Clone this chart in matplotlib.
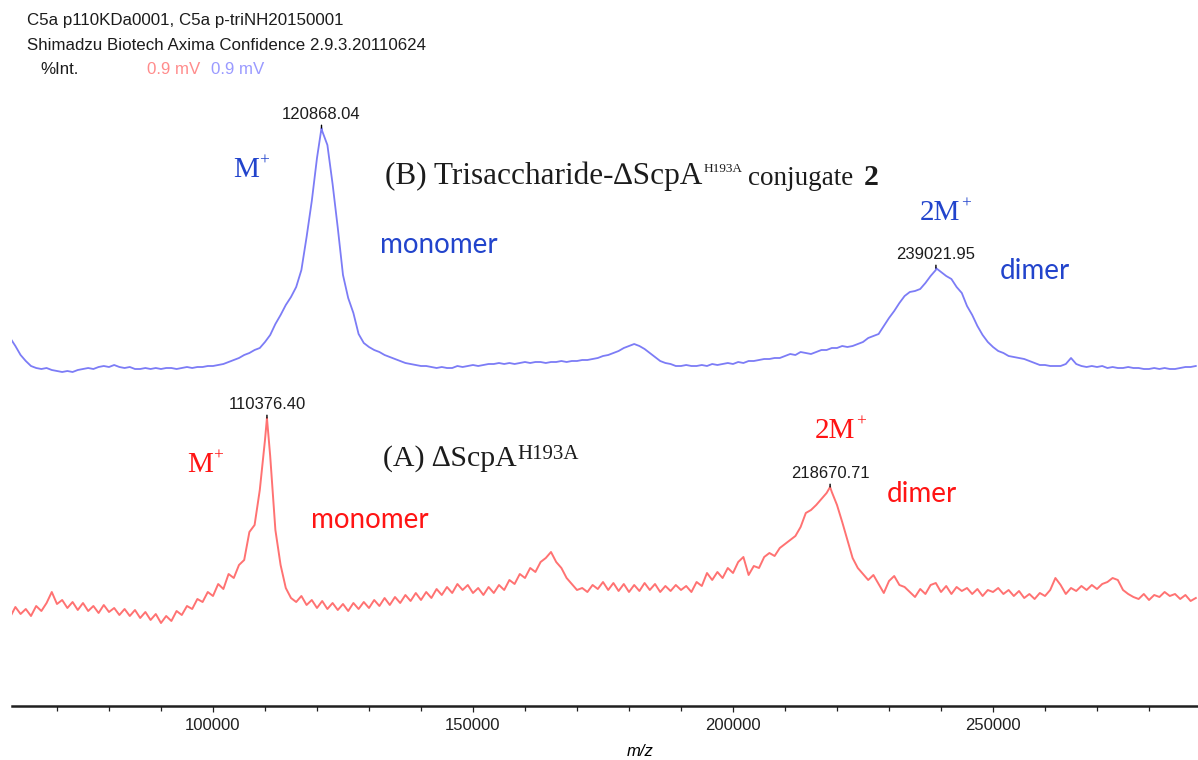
import numpy as np
import matplotlib
matplotlib.use('Agg')
import matplotlib.pyplot as plt
from matplotlib.ticker import MultipleLocator

# m/z sampling grid of the two traces (1000 Da per point)
mz = np.arange(61000, 290000, 1000)

# (B) trisaccharide conjugate, upper trace (height above the m/z axis)
blue_h = [
    368, 360, 351, 345, 340, 338, 337, 338, 336, 335,
    334, 335, 334, 336, 337, 338, 337, 339, 340, 339,
    341, 339, 338, 339, 337, 337, 338, 337, 338, 337,
    338, 338, 337, 338, 339, 338, 339, 339, 340, 340,
    341, 342, 344, 346, 348, 351, 353, 356, 358, 364,
    371, 382, 391, 401, 409, 419, 436, 469, 505, 548,
    575, 561, 522, 478, 431, 408, 393, 372, 363, 359,
    356, 354, 351, 349, 347, 345, 343, 342, 341, 340,
    340, 339, 338, 339, 338, 338, 340, 339, 340, 341,
    340, 341, 342, 342, 343, 342, 343, 342, 343, 344,
    343, 344, 344, 343, 344, 344, 345, 344, 345, 345,
    346, 346, 347, 348, 350, 351, 353, 355, 358, 360,
    362, 360, 357, 353, 349, 345, 343, 342, 340, 340,
    341, 340, 340, 341, 340, 342, 341, 342, 343, 342,
    344, 343, 345, 345, 346, 347, 347, 348, 348, 350,
    352, 351, 354, 353, 352, 354, 356, 356, 358, 358,
    360, 359, 360, 362, 364, 368, 370, 372, 380, 388,
    395, 403, 410, 414, 415, 417, 423, 430, 436, 434,
    430, 427, 419, 413, 400, 391, 380, 371, 364, 359,
    355, 353, 350, 349, 348, 347, 345, 343, 341, 341,
    340, 340, 340, 342, 348, 342, 340, 339, 340, 339,
    340, 338, 339, 338, 338, 339, 338, 338, 337, 337,
    338, 337, 338, 337, 337, 338, 339, 339, 340,
]

# (A) ScpA H193A, lower trace
red_h = [
    89, 99, 92, 97, 90, 100, 95, 103, 114, 102,
    106, 98, 104, 96, 103, 95, 100, 93, 101, 94,
    98, 91, 97, 90, 96, 88, 94, 86, 92, 83,
    90, 85, 95, 91, 100, 97, 107, 104, 114, 110,
    122, 117, 132, 128, 141, 146, 174, 181, 216, 266,
    250, 176, 141, 118, 108, 104, 110, 101, 106, 98,
    105, 97, 103, 96, 102, 95, 103, 97, 104, 98,
    106, 100, 108, 101, 109, 103, 111, 105, 113, 106,
    114, 108, 117, 111, 119, 113, 122, 116, 121, 113,
    118, 111, 119, 113, 121, 116, 126, 122, 132, 128,
    138, 134, 144, 148, 154, 144, 138, 128, 122, 116,
    118, 114, 121, 117, 124, 116, 123, 115, 122, 114,
    121, 115, 123, 116, 122, 114, 120, 115, 121, 116,
    120, 114, 124, 120, 133, 126, 134, 128, 138, 133,
    144, 149, 131, 140, 138, 149, 153, 150, 158, 162,
    166, 170, 179, 193, 196, 201, 207, 213, 214, 201,
    184, 166, 148, 138, 132, 126, 131, 122, 113, 125,
    130, 121, 119, 114, 109, 117, 112, 121, 123, 114,
    120, 112, 119, 115, 118, 112, 117, 110, 116, 114,
    118, 112, 116, 110, 115, 108, 112, 107, 113, 110,
    116, 128, 121, 112, 118, 115, 120, 116, 121, 117,
    122, 124, 128, 126, 116, 112, 109, 107, 112, 106,
    111, 109, 114, 110, 112, 107, 111, 105, 108,
]

# labelled peak apexes
blue_peaks = [120868.04, 239021.95]
blue_peak_h = [578, 438]
red_peaks = [110376.40, 218670.71]
red_peak_h = [288, 219]

header = ['C5a p110KDa0001, C5a p-triNH20150001',
          'Shimadzu Biotech Axima Confidence 2.9.3.20110624']
scale_labels = ['0.9 mV', '0.9 mV']

trace_blue = '#7c7cf6'
trace_red = '#ff7272'
note_blue = '#2244cc'
note_red = '#ff1414'
ink = '#1c1c1c'

SERIF = 'Liberation Serif'
SANS = 'Liberation Sans'
NOTE = 'Lato'


def with_peaks(h, peaks, peak_h):
    x = np.append(mz, peaks)
    y = np.append(np.asarray(h, float), peak_h)
    order = np.argsort(x)
    return x[order], y[order]


def sup_text(ax, x, y, base, sup, color, size, sup_size, rise=0.0):
    t = ax.text(x, y, base, color=color, fontsize=size, family=SERIF,
                va='baseline', ha='left')
    s = ax.annotate(sup, xy=(1, 1), xycoords=t, xytext=(0.5, rise),
                    textcoords='offset points', va='top', ha='left',
                    color=color, fontsize=sup_size, family=SERIF)
    return t, s


def label_peak(ax, x, y):
    ax.annotate('%.2f' % x, xy=(x, y), xytext=(0, 4),
                textcoords='offset points', ha='center', va='bottom',
                fontsize=12, family=SANS, color=ink,
                arrowprops=dict(arrowstyle='-', color='black', lw=1.0,
                                shrinkA=0, shrinkB=2.5))


W, H = 1198, 760
fig = plt.figure(figsize=(W / 100, H / 100), dpi=100)
ax = fig.add_axes([12 / W, 54 / H, 1186 / W, 620 / H])

bx, by = with_peaks(blue_h, blue_peaks, blue_peak_h)
rx, ry = with_peaks(red_h, red_peaks, red_peak_h)
ax.plot(bx, by, color=trace_blue, lw=1.3)
ax.plot(rx, ry, color=trace_red, lw=1.4)

ax.set_xlim(61350, 289420)
ax.set_ylim(0, 620)

for x, y in zip(blue_peaks, blue_peak_h):
    label_peak(ax, x, y)
for x, y in zip(red_peaks, red_peak_h):
    label_peak(ax, x, y)

# axis styling: only the m/z axis is shown
for side in ['left', 'right', 'top']:
    ax.spines[side].set_visible(False)
ax.spines['bottom'].set_linewidth(1.8)
ax.spines['bottom'].set_color('#202020')
ax.set_yticks([])
ax.xaxis.set_major_locator(MultipleLocator(50000))
ax.xaxis.set_minor_locator(MultipleLocator(10000))
ax.tick_params(axis='x', which='major', direction='out', length=4.5,
               width=0.9, pad=4, colors='#202020')
ax.tick_params(axis='x', which='minor', direction='out', length=3.5,
               width=0.9, colors='#202020')
for lab in ax.get_xticklabels():
    lab.set_family(SANS)
    lab.set_fontsize(12)
ax.set_xlabel('m/z', fontsize=12, style='italic', family=SANS)
ax.xaxis.set_label_coords((640 - 12) / 1186, -0.062)

# (B) upper trace annotations
t, s = sup_text(ax, 133100, 522, '(B) Trisaccharide-\u2206ScpA', 'H193A',
                ink, 22.5, 9.5, rise=-1)
tail = ax.annotate('conjugate', xy=(1, 0), xycoords=(s, t), xytext=(4, 0),
                   textcoords='offset points', va='bottom', ha='left',
                   color=ink, fontsize=19.5, family=SERIF)
ax.annotate('2', xy=(1, 0), xycoords=tail, xytext=(8, 0),
            textcoords='offset points', va='bottom', ha='left',
            color=ink, fontsize=21.5, family=SERIF, weight='bold')
sup_text(ax, 103800, 529, 'M', '+', note_blue, 21, 12.5, rise=3)
sup_text(ax, 236000, 486, '2M', '+', note_blue, 21, 12.5, rise=3)
ax.text(132100, 453, 'monomer', color=note_blue, fontsize=20, family=NOTE,
        va='baseline')
ax.text(251300, 427, 'dimer', color=note_blue, fontsize=20, family=NOTE,
        va='baseline')

# (A) lower trace annotations
sup_text(ax, 132700, 240, '(A) \u2206ScpA', 'H193A', ink, 21.5, 15, rise=0)
sup_text(ax, 95000, 234, 'M', '+', note_red, 21, 12.5, rise=3)
sup_text(ax, 215800, 268, '2M', '+', note_red, 21, 12.5, rise=3)
ax.text(118800, 178, 'monomer', color=note_red, fontsize=20, family=NOTE,
        va='baseline')
ax.text(229600, 204, 'dimer', color=note_red, fontsize=20, family=NOTE,
        va='baseline')

# instrument header
fig.text(27 / W, 1 - 21 / H, header[0], fontsize=12.2, family=SANS,
         color=ink, va='center')
fig.text(27 / W, 1 - 45 / H, header[1], fontsize=12.2, family=SANS,
         color=ink, va='center')
fig.text(40 / W, 1 - 69 / H, '%Int.', fontsize=12.2, family=SANS,
         color=ink, va='center')
fig.text(147 / W, 1 - 69 / H, scale_labels[0], fontsize=12.2, family=SANS,
         color='#ff8c8c', va='center')
fig.text(211 / W, 1 - 69 / H, scale_labels[1], fontsize=12.2, family=SANS,
         color='#9a9aff', va='center')

fig.savefig('out.png', dpi=100, facecolor='white')
